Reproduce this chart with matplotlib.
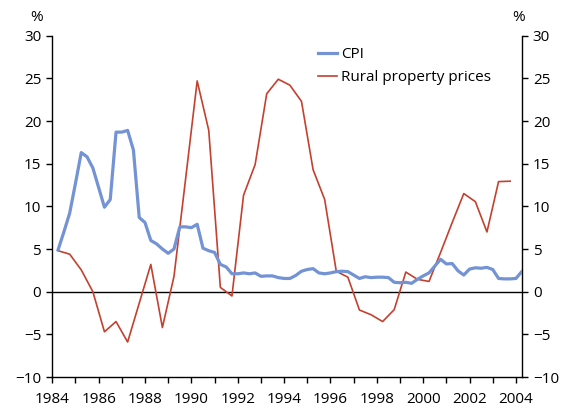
import numpy as np
import matplotlib
matplotlib.use('Agg')
import matplotlib.pyplot as plt

plt.rcParams['font.family'] = ['Open Sans', 'DejaVu Sans']

# CPI, quarterly from 1984 Q2 to 2004 Q2
cpi_start = 1984.25
cpi = [4.9, 7.0, 9.2,
       12.7, 16.3, 15.8, 14.5,
       12.2, 9.9, 10.8, 18.7,
       18.7, 18.9, 16.6, 8.7,
       8.1, 6.0, 5.6, 5.0,
       4.5, 5.0, 7.6, 7.6,
       7.5, 7.9, 5.1, 4.8,
       4.6, 3.2, 2.9, 2.1,
       2.1, 2.2, 2.1, 2.2,
       1.8, 1.85, 1.85, 1.65,
       1.55, 1.55, 1.9, 2.4,
       2.6, 2.7, 2.2, 2.1,
       2.2, 2.35, 2.4, 2.35,
       1.95, 1.55, 1.75, 1.65,
       1.7, 1.7, 1.65, 1.1,
       1.05, 1.1, 0.98, 1.45,
       1.85, 2.2, 3.0, 3.8,
       3.25, 3.3, 2.45, 1.95,
       2.65, 2.8, 2.75, 2.85,
       2.6, 1.55, 1.5, 1.5,
       1.55, 2.35]

# Rural property prices, half-yearly from 1984 Q2
rural_start = 1984.25
rural = [4.8, 4.4, 2.55, 0.0, -4.7, -3.5, -5.9, -1.35, 3.2, -4.2,
         1.8, 13.2, 24.7, 18.9, 0.5, -0.5, 11.3, 14.9, 23.2, 24.9,
         24.2, 22.3, 14.3, 10.8, 2.4, 1.7, -2.15, -2.7, -3.5, -2.1,
         2.3, 1.45, 1.2, 4.6, 8.1, 11.5, 10.55, 7.0, 12.9, 12.95]

years = list(range(1984, 2005))

x_cpi = cpi_start + 0.25 * np.arange(len(cpi))
x_rural = rural_start + 0.5 * np.arange(len(rural))

fig = plt.figure(figsize=(5.61, 4.09), dpi=100)
ax = fig.add_axes([0.0932, 0.0782, 0.8368, 0.8345])

ax.axhline(0, color='black', lw=1.0, zorder=1)
ax.plot(x_cpi, cpi, color='#7393d4', lw=2.3, label='CPI', zorder=3,
        solid_joinstyle='round')
ax.plot(x_rural, rural, color='#c4402f', lw=1.2, label='Rural property prices', zorder=2)

ax.set_xlim(1984, 2004.25)
ax.set_ylim(-10, 30)
ax.set_yticks(range(-10, 31, 5))
ax.set_xticks(years)
ax.set_xticklabels([str(y) if y % 2 == 0 else '' for y in years])

for s in ['left', 'right', 'bottom']:
    ax.spines[s].set_color('black')
    ax.spines[s].set_linewidth(1.0)
ax.spines['top'].set_visible(False)

ax.tick_params(axis='both', direction='out', length=4, width=1.0,
               labelsize=11, colors='black', pad=4)
ax.tick_params(axis='x', pad=7)
ax.tick_params(axis='y', left=True, right=True, labelleft=True, labelright=True)

# Unidade no topo dos dois eixos
ax.text(-0.0326, 1.053, '%', transform=ax.transAxes, ha='center', va='center', fontsize=11)
ax.text(0.994, 1.053, '%', transform=ax.transAxes, ha='center', va='center', fontsize=11)

ax.legend(loc='upper left', bbox_to_anchor=(0.566, 0.966), frameon=False, fontsize=11,
          handlelength=1.25, handletextpad=0.25, labelspacing=0.5,
          borderaxespad=0, borderpad=0)

fig.savefig('out.png', dpi=100)
